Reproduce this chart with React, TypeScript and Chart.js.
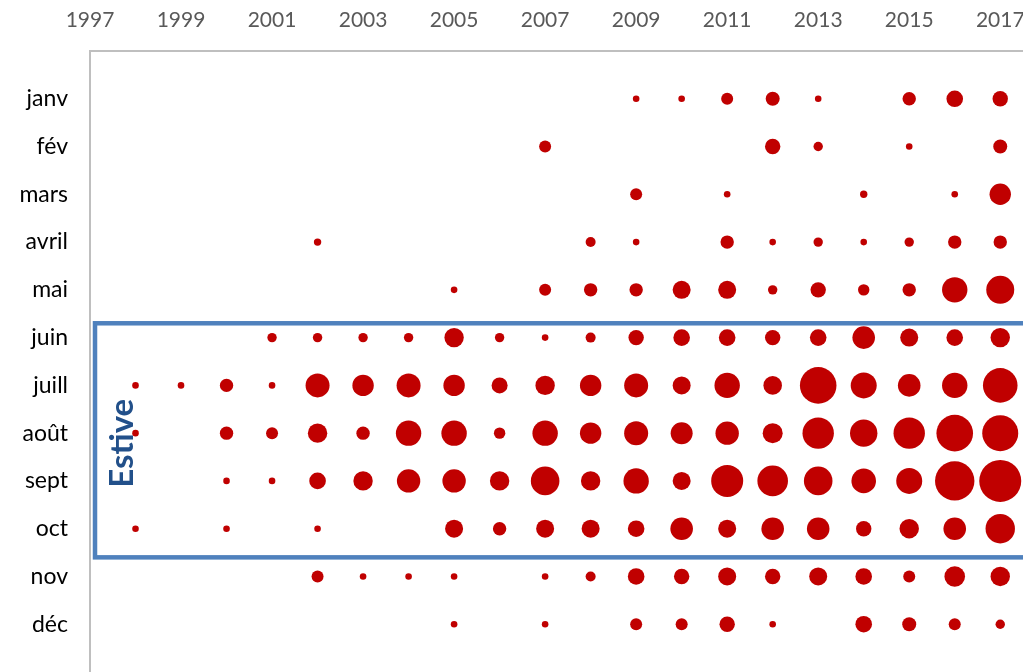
import React, { useEffect, useRef } from "react";
import { Chart, registerables } from "chart.js";

Chart.register(...registerables);

// Years on the horizontal axis (1997 .. 2017)
const years = [1997, 1998, 1999, 2000, 2001, 2002, 2003, 2004, 2005, 2006, 2007, 2008, 2009, 2010, 2011, 2012, 2013, 2014, 2015, 2016, 2017];
const yearTicks = [1997, 1999, 2001, 2003, 2005, 2007, 2009, 2011, 2013, 2015, 2017];
const months = ["janv", "fév", "mars", "avril", "mai", "juin", "juill", "août", "sept", "oct", "nov", "déc"];

const n = null;
// Bubble sizes (radius), one array per month, indexed by year 1997..2017
const janv = [n, n, n, n, n, n, n, n, n, n, n, n, 3.3, 3.3, 6, 7, 3.3, n, 6.7, 8.3, 7.7];
const fev = [n, n, n, n, n, n, n, n, n, n, 6, n, n, n, n, 7.7, 4.7, n, 3.3, n, 7];
const mars = [n, n, n, n, n, n, n, n, n, n, n, n, 6, n, 3.3, n, n, 3.7, n, 3.3, 10.7];
const avril = [n, n, n, n, n, 3.7, n, n, n, n, n, 5, 3.3, n, 6.7, 3.3, 4.7, 3.3, 4.7, 6.7, 6.7];
const mai = [n, n, n, n, n, n, n, n, 3.3, n, 6, 6.7, 6.7, 9, 9, 4.7, 7.7, 5.7, 6.7, 12.7, 14];
const juin = [n, n, n, n, 4.7, 4.7, 4.7, 4.7, 9.7, 4.7, 3.3, 5, 7.7, 8.3, 8.3, 7.7, 8.3, 11.3, 9, 8.3, 9.7];
const juill = [n, 3.3, 3.3, 6.7, 3.3, 12, 10.7, 12, 10.7, 8, 9.7, 10.7, 12, 9, 12.7, 9.3, 18.3, 13, 11.3, 12.7, 17.3];
const aout = [n, 3.3, n, 6.7, 6, 9.7, 6.7, 12.7, 12.7, 5.7, 12.7, 10.7, 12, 11, 11.7, 10, 15.7, 13.7, 15.7, 18.3, 18];
const sept = [n, n, n, 3.3, 3.3, 8.3, 9.7, 11.7, 11.7, 9.7, 14.3, 9.7, 12.7, 9, 16, 15.3, 14.3, 12.3, 13, 19.7, 21];
const oct = [n, 3.3, n, 3.3, n, 3.3, n, n, 9, 6.7, 9, 9, 8.3, 11.3, 9, 11.3, 11.3, 7.7, 9.7, 11.3, 14.7];
const nov = [n, n, n, n, n, 6, 3.3, 3.3, 3.3, n, 3.3, 5, 8.3, 7.7, 9, 7.7, 9, 8.3, 6, 10.3, 9.7];
const dec = [n, n, n, n, n, n, n, n, 3.3, n, 3.3, n, 6, 6, 7.7, 3.3, n, 8.3, 7, 6, 4.7];

const monthSeries = [janv, fev, mars, avril, mai, juin, juill, aout, sept, oct, nov, dec];

const estiveLabel = "Estive";

const estivePlugin = {
  id: "estive",
  beforeDatasetsDraw(chart: any) {
    const { ctx, scales } = chart;
    const x = scales.x;
    const y = scales.y;
    const left = x.getPixelForValue(1997.11);
    const right = x.getPixelForValue(2018.2);
    const top = y.getPixelForValue(5.7);
    const bottom = y.getPixelForValue(10.6);
    ctx.save();
    ctx.strokeStyle = "#4f81bd";
    ctx.lineWidth = 4.5;
    ctx.strokeRect(left, top, right - left, bottom - top);
    ctx.translate(left + 38, (top + bottom) / 2 + 3);
    ctx.rotate(-Math.PI / 2);
    ctx.fillStyle = "#22508a";
    ctx.font = "bold 33px Lato";
    ctx.textAlign = "center";
    ctx.textBaseline = "alphabetic";
    ctx.fillText(estiveLabel, 0, 0);
    ctx.restore();
  },
};

export default function App() {
  const canvasRef = useRef<HTMLCanvasElement | null>(null);

  useEffect(() => {
    const canvas = canvasRef.current;
    if (!canvas) return;
    const points: { x: number; y: number; r: number }[] = [];
    monthSeries.forEach((series, mi) => {
      series.forEach((v, yi) => {
        if (v != null) points.push({ x: years[yi], y: mi + 1, r: v });
      });
    });

    const chart = new Chart(canvas, {
      type: "bubble",
      data: {
        datasets: [
          {
            label: "occurrences",
            data: points,
            backgroundColor: "#c00000",
            borderWidth: 0,
          },
        ],
      },
      options: {
        responsive: false,
        animation: false,
        layout: { padding: 0, autoPadding: false },
        plugins: {
          legend: { display: false },
          tooltip: { enabled: false },
        },
        scales: {
          x: {
            type: "linear",
            position: "top",
            min: 1997,
            max: 2017.5,
            afterBuildTicks: (s: any) => {
              s.ticks = yearTicks.map((v) => ({ value: v }));
            },
            afterFit: (s: any) => {
              s.height = 51;
              s.paddingLeft = 0;
              s.paddingRight = 0;
              s.paddingTop = 0;
              s.paddingBottom = 0;
            },
            grid: { display: false, drawTicks: false },
            border: { display: true, color: "#bfbfbf", width: 2 },
            ticks: {
              autoSkip: false,
              maxRotation: 0,
              padding: 18,
              color: "#595959",
              font: { family: "Lato", size: 21 },
              callback: (v: any) => String(v),
            },
          },
          y: {
            type: "linear",
            reverse: true,
            min: 0,
            max: 13,
            afterBuildTicks: (s: any) => {
              s.ticks = months.map((_, i) => ({ value: i + 1 }));
            },
            afterFit: (s: any) => {
              s.width = 90;
              s.paddingLeft = 0;
              s.paddingRight = 0;
              s.paddingTop = 0;
              s.paddingBottom = 0;
            },
            grid: { display: false, drawTicks: false },
            border: { display: true, color: "#bfbfbf", width: 2 },
            ticks: {
              autoSkip: false,
              padding: 22,
              color: "#000000",
              font: { family: "Lato", size: 23 },
              callback: (v: any) => months[Math.round(Number(v)) - 1] ?? "",
            },
          },
        },
      },
      plugins: [estivePlugin],
    });
    return () => chart.destroy();
  }, []);

  return (
    <div style={{ position: "absolute", left: 0, top: 0, width: 1023, height: 672, background: "#fff" }}>
      <canvas ref={canvasRef} width={1023} height={672} style={{ display: "block" }} />
    </div>
  );
}
